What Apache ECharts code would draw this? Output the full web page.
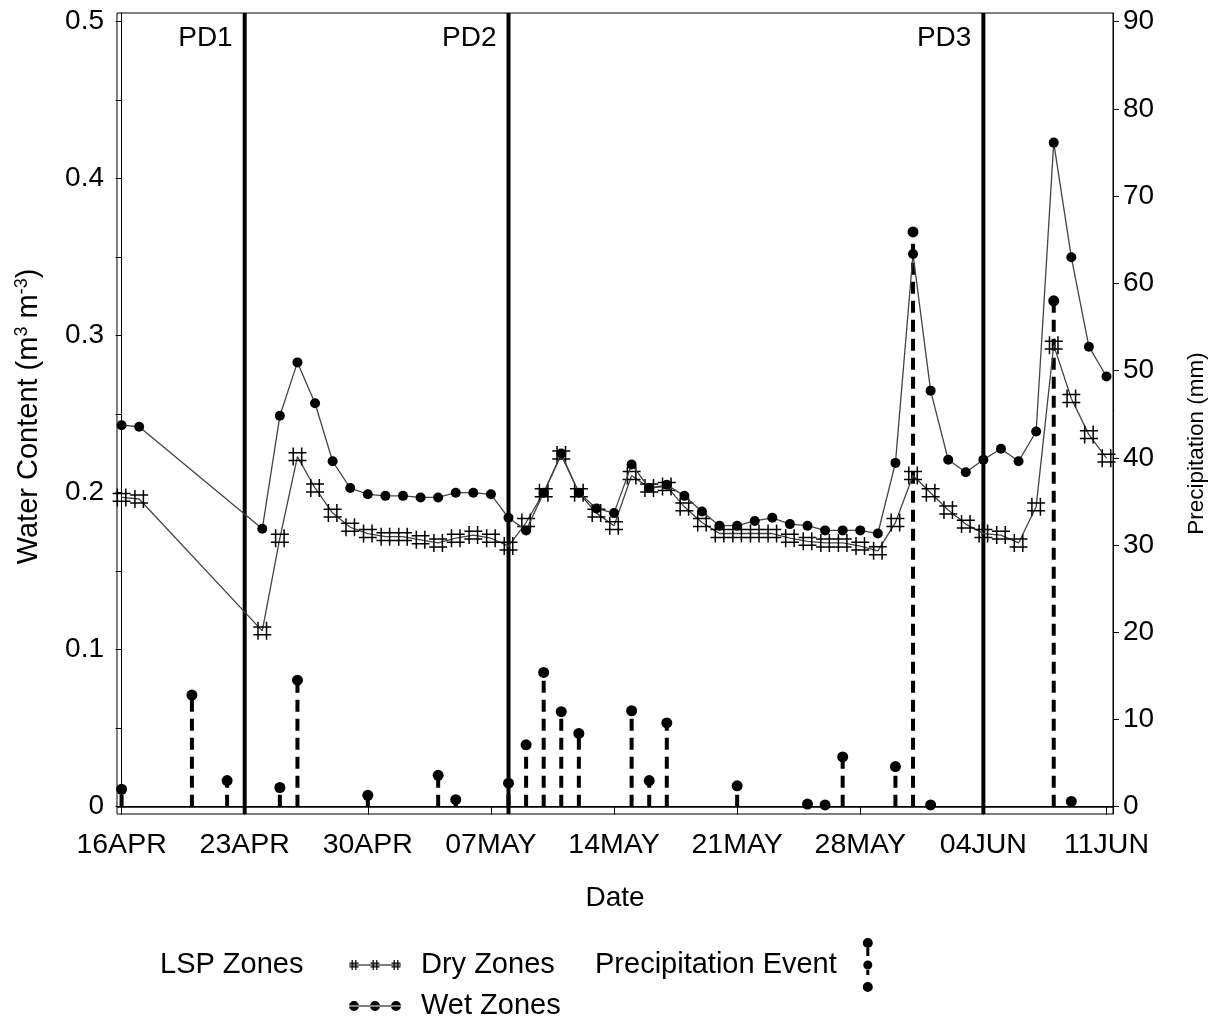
<!DOCTYPE html>
<html>
<head>
<meta charset="utf-8">
<title>Soil water content and precipitation</title>
<script src="https://cdn.jsdelivr.net/npm/echarts@6/dist/echarts.min.js"></script>
<style>
  html, body { margin: 0; padding: 0; background: #fff; }
  #chart { width: 1226px; height: 1023px; }
</style>
</head>
<body>
<div id="chart"></div>
<script>
// Observation dates (month-day) shared by both zone series
const obsDates = [
  '04-16','04-17','04-24','04-25','04-26','04-27','04-28','04-29','04-30',
  '05-01','05-02','05-03','05-04','05-05','05-06','05-07','05-08','05-09','05-10',
  '05-11','05-12','05-13','05-14','05-15','05-16','05-17','05-18','05-19','05-20',
  '05-21','05-22','05-23','05-24','05-25','05-26','05-27','05-28','05-29','05-30','05-31',
  '06-01','06-02','06-03','06-04','06-05','06-06','06-07','06-08','06-09','06-10','06-11'
];
// Volumetric water content, m3 m-3
const dryZones = [
  0.197,0.196,0.112,0.171,0.223,0.203,0.187,0.178,0.174,
  0.172,0.172,0.170,0.168,0.171,0.173,0.171,0.166,0.181,0.200,
  0.224,0.200,0.187,0.179,0.211,0.203,0.204,0.191,0.181,0.174,
  0.174,0.174,0.174,0.171,0.169,0.168,0.168,0.166,0.163,0.181,0.211,
  0.200,0.189,0.180,0.174,0.173,0.168,0.191,0.294,0.260,0.237,0.222
];
const wetZones = [
  0.243,0.242,0.177,0.249,0.283,0.257,0.220,0.203,0.199,
  0.198,0.198,0.197,0.197,0.200,0.200,0.199,0.184,0.176,0.200,
  0.225,0.200,0.190,0.187,0.218,0.203,0.205,0.198,0.188,0.179,
  0.179,0.182,0.184,0.180,0.179,0.176,0.176,0.176,0.174,0.219,0.352,
  0.265,0.221,0.213,0.221,0.228,0.220,0.239,0.423,0.350,0.293,0.274
];
// Precipitation events, mm
const rainDates = [
  '04-16','04-20','04-22','04-25','04-26','04-30','05-04','05-05','05-08','05-09',
  '05-10','05-11','05-12','05-15','05-16','05-17','05-21','05-25','05-26','05-27',
  '05-30','05-31','06-01','06-08','06-09'
];
const rainMm = [
  2.0,12.8,3.0,2.2,14.5,1.3,3.6,0.8,2.7,7.1,
  15.4,10.9,8.4,11.0,3.0,9.6,2.4,0.3,0.2,5.7,
  4.6,65.9,0.2,58.0,0.6
];
// Planting-date markers
const pdDates = ['04-23','05-08','06-04'];
const pdLabels = ['PD1','PD2','PD3'];
// Date axis ticks
const tickDates = ['04-16','04-23','04-30','05-07','05-14','05-21','05-28','06-04','06-11'];
const tickLabels = ['16APR','23APR','30APR','07MAY','14MAY','21MAY','28MAY','04JUN','11JUN'];
// Value axis ticks
const wcTicks = [0,0.05,0.1,0.15,0.2,0.25,0.3,0.35,0.4,0.45,0.5];
const wcLabels = [0,0.1,0.2,0.3,0.4,0.5];
const rainTicks = [0,10,20,30,40,50,60,70,80,90];

// days since 16 April
const DAY = 86400000;
function dayOf(md) {
  const [m, d] = md.split('-').map(Number);
  return Math.round((Date.UTC(2000, m - 1, d) - Date.UTC(2000, 3, 16)) / DAY);
}
const tickDays = tickDates.map(dayOf);

const FONT = "'Liberation Sans', Arial, sans-serif";
const INK = '#000';

// small padding of the frame beyond the labelled value range
const padLo = 0.0093, padHi = 0.0111;

// '#' marker made of four thin bars
const hashPath = 'path://M4,0h1.5v18h-1.5z M12.5,0h1.5v18h-1.5z M0,4.3h18v1.5h-18z M0,12.2h18v1.5h-18z';

function circ(cx, cy, r) {
  return `M${cx - r},${cy}a${r},${r} 0 1,0 ${2 * r},0a${r},${r} 0 1,0 ${-2 * r},0z`;
}
function hashAt(c) {
  return `M${c - 2.4},0h1.2v10h-1.2z M${c + 1.2},0h1.2v10h-1.2z M${c - 4.5},2.6h9v1.2h-9z M${c - 4.5},6.2h9v1.2h-9z`;
}
const dryIcon = 'path://M0,4.4h52v1.2h-52z ' + [5, 26, 47].map(hashAt).join(' ');
const wetIcon = 'path://M0,4.4h52v1.2h-52z ' + [5, 26, 47].map(c => circ(c, 5, 5)).join(' ');
const rainIcon = 'path://' + circ(5, 5, 5) + ' M3.5,10h3v8h-3z ' + circ(5, 27, 4.5) +
  ' M3.5,31h3v6h-3z ' + circ(5, 49, 5);

const chart = echarts.init(document.getElementById('chart'), null, { renderer: 'canvas' });

chart.setOption({
  animation: false,
  backgroundColor: '#fff',
  textStyle: { fontFamily: FONT, color: INK },
  title: {
    text: 'LSP Zones', left: 160, top: 950, padding: 0,
    textStyle: { fontFamily: FONT, fontSize: 29, fontWeight: 'normal', color: INK, lineHeight: 30 }
  },
  legend: [
    {
      data: [
        { name: 'Dry Zones', icon: dryIcon },
        { name: 'Wet Zones', icon: wetIcon }
      ],
      orient: 'vertical', left: 349, top: 950, padding: 0,
      itemWidth: 52, itemHeight: 10, itemGap: 11,
      selectedMode: false,
      textStyle: { fontFamily: FONT, fontSize: 29, color: INK, lineHeight: 30, padding: [0, 0, 0, 15] }
    },
    {
      data: [{ name: 'Precipitation Event', icon: rainIcon }],
      align: 'right', left: 595, top: 938, padding: 0,
      itemWidth: 10, itemHeight: 54,
      selectedMode: false,
      textStyle: { fontFamily: FONT, fontSize: 29, color: INK, lineHeight: 30, padding: [0, 21, 0, 0] }
    }
  ],
  grid: {
    left: 117, right: 113, top: 13, bottom: 209,
    show: true, borderColor: INK, borderWidth: 1, backgroundColor: 'transparent'
  },
  xAxis: {
    type: 'value', min: -0.26, max: 56.37,
    name: 'Date', nameLocation: 'middle', nameGap: 70,
    nameTextStyle: { fontFamily: FONT, fontSize: 28, color: INK },
    axisLine: { show: true, lineStyle: { color: INK, width: 1 } },
    axisTick: { show: true, length: 8, customValues: tickDays, lineStyle: { color: INK } },
    axisLabel: {
      customValues: tickDays, margin: 17, fontFamily: FONT, fontSize: 28.5, color: INK,
      formatter: v => tickLabels[tickDays.indexOf(Math.round(v))] || ''
    },
    splitLine: { show: false }
  },
  yAxis: [
    {
      type: 'value', position: 'left',
      min: -0.5 * padLo, max: 0.5 * (1 + padHi),
      name: '{t|Water Content (m}{s|3}{t| m}{s|-3}{t|)}',
      nameLocation: 'middle', nameGap: 73, nameRotate: 90,
      nameTextStyle: {
        fontFamily: FONT, color: INK, padding: [0, 6, 0, 0],
        rich: {
          t: { fontFamily: FONT, fontSize: 29, color: INK, lineHeight: 31 },
          s: { fontFamily: FONT, fontSize: 18, color: INK, verticalAlign: 'top', lineHeight: 18 }
        }
      },
      axisLine: { show: true, lineStyle: { color: INK, width: 1 } },
      axisTick: { show: true, length: 6, customValues: wcTicks, lineStyle: { color: INK } },
      axisLabel: {
        customValues: wcLabels, margin: 13, fontFamily: FONT, fontSize: 28, color: INK,
        formatter: v => (Math.abs(v) < 1e-9 ? '0' : v.toFixed(1))
      },
      splitLine: { show: false }
    },
    {
      type: 'value', position: 'right',
      min: -90 * padLo, max: 90 * (1 + padHi),
      name: 'Precipitation (mm)', nameLocation: 'middle', nameGap: 72, nameRotate: 90,
      nameTextStyle: { fontFamily: FONT, fontSize: 22.5, color: INK, padding: [0, 60, 0, 0] },
      axisLine: { show: true, lineStyle: { color: INK, width: 1 } },
      axisTick: { show: true, length: 6, customValues: rainTicks, lineStyle: { color: INK } },
      axisLabel: {
        customValues: rainTicks, margin: 10, fontFamily: FONT, fontSize: 28, color: INK,
        formatter: v => String(Math.round(v))
      },
      splitLine: { show: false }
    }
  ],
  series: [
    {
      // planting-date reference lines with their labels
      type: 'custom', silent: true, z: 1, clip: false,
      data: pdDates.map((d, i) => [dayOf(d), i]),
      renderItem: (params, api) => {
        const x = api.coord([api.value(0), 0])[0];
        const cs = params.coordSys;
        return {
          type: 'group',
          children: [
            { type: 'line', shape: { x1: x, y1: cs.y, x2: x, y2: cs.y + cs.height },
              style: { stroke: INK, lineWidth: 4 } },
            { type: 'text', x: x - 12, y: cs.y + 11,
              style: { text: pdLabels[api.value(1)], fontFamily: FONT, fontSize: 28,
                       fill: INK, align: 'right', verticalAlign: 'top' } }
          ]
        };
      }
    },
    {
      name: 'Precipitation Event', type: 'custom', yAxisIndex: 1, z: 2, silent: true,
      itemStyle: { color: INK },
      data: rainDates.map((d, i) => [dayOf(d), rainMm[i]]),
      renderItem: (params, api) => {
        const top = api.coord([api.value(0), api.value(1)]);
        const base = api.coord([api.value(0), 0]);
        return {
          type: 'group',
          children: [
            { type: 'line', shape: { x1: base[0], y1: base[1], x2: top[0], y2: top[1] },
              style: { stroke: INK, lineWidth: 4, lineDash: [12, 7] } },
            { type: 'circle', shape: { cx: top[0], cy: top[1], r: 5.5 }, style: { fill: INK } }
          ]
        };
      },
      markLine: {
        silent: true, symbol: ['none', 'none'], label: { show: false },
        lineStyle: { color: INK, width: 1.5, type: 'solid' },
        data: [{ yAxis: 0 }]
      }
    },
    {
      name: 'Dry Zones', type: 'line', z: 4,
      data: obsDates.map((d, i) => [dayOf(d), dryZones[i]]),
      symbol: hashPath, symbolSize: 18,
      itemStyle: { color: INK },
      lineStyle: { color: '#444', width: 1.3 }
    },
    {
      name: 'Wet Zones', type: 'line', z: 5,
      data: obsDates.map((d, i) => [dayOf(d), wetZones[i]]),
      symbol: 'circle', symbolSize: 10,
      itemStyle: { color: INK },
      lineStyle: { color: '#444', width: 1.3 }
    }
  ]
});
</script>
</body>
</html>
